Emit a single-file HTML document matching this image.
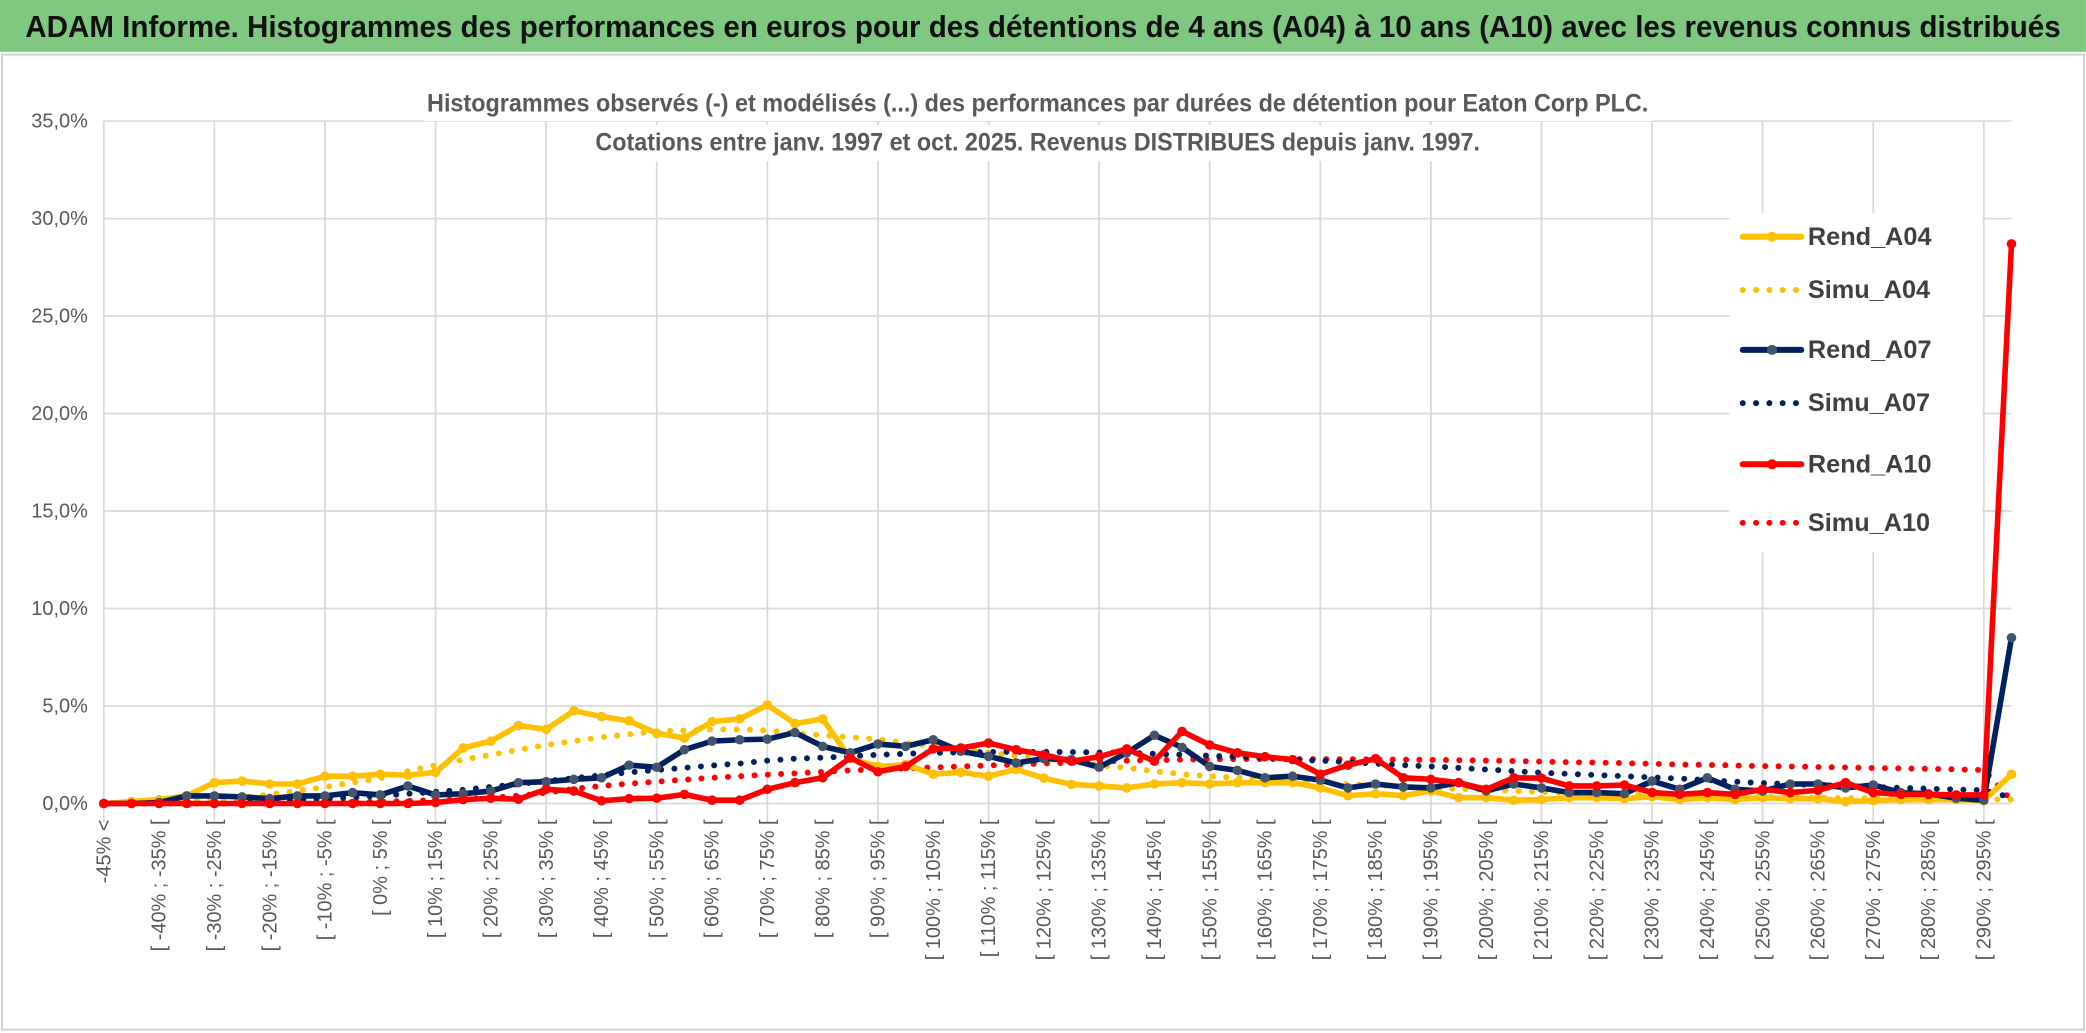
<!DOCTYPE html>
<html><head><meta charset="utf-8"><style>
html,body{margin:0;padding:0;background:#fff;}
svg{display:block;}
text{font-family:"Liberation Sans Narrow","Liberation Sans",sans-serif;}
</style></head><body>
<svg id="chart" width="2086" height="1033" viewBox="0 0 1568 776.5" xmlns="http://www.w3.org/2000/svg">
<rect x="0" y="0" width="1568" height="776.5" fill="#fff"/>
<rect x="0" y="0" width="1568" height="39" fill="#7ec97f"/>
<text x="784" y="28" text-anchor="middle" font-size="23" font-weight="bold" fill="#111" textLength="1530" lengthAdjust="spacingAndGlyphs">ADAM Informe. Histogrammes des performances en euros pour des détentions de 4 ans (A04) à 10 ans (A10) avec les revenus connus distribués</text>
<rect x="1.5" y="41" width="1565" height="733" fill="#fff" stroke="#d0d0d0" stroke-width="1.5"/>
<g id="grid"></g>
<g id="yaxis"></g>
<g id="xaxis"></g>
<g id="series"></g>
<rect x="318" y="64" width="924" height="27" fill="#fff"/>
<rect x="444" y="94" width="672" height="27" fill="#fff"/>
<text x="780" y="84" text-anchor="middle" font-size="19" font-weight="bold" fill="#595959" textLength="918" lengthAdjust="spacingAndGlyphs">Histogrammes observés (-) et modélisés (...) des performances par durées de détention pour Eaton Corp PLC.</text>
<text x="780" y="113" text-anchor="middle" font-size="19" font-weight="bold" fill="#595959" textLength="665" lengthAdjust="spacingAndGlyphs">Cotations entre janv. 1997 et oct. 2025. Revenus DISTRIBUES depuis janv. 1997.</text>
<g id="legend"></g>
</svg>
<script>
const categories = (function(){ const c=["-45% <"]; for(let a=-45;a<300;a+=5){c.push("[ "+a+"% ; "+(a+5)+"% [");} return c; })();
const yTicks = [0,5,10,15,20,25,30,35];
const yTickLabels = ["0,0%","5,0%","10,0%","15,0%","20,0%","25,0%","30,0%","35,0%"];
const rendA04 = [0,0.1,0.2,0.4,1.07,1.15,1.0,1.0,1.4,1.4,1.5,1.45,
1.6,2.85,3.2,4.0,3.8,4.76,4.46,4.24,3.6,3.36,4.2,4.34,5.05,4.1,4.34,
2.3,1.9,2.0,1.5,1.6,1.4,1.75,1.3,
0.98,0.9,0.8,1.0,1.07,1.0,1.07,1.07,1.07,0.8,0.4,0.5,0.4,0.65,0.3,0.3,0.17,0.2,
0.3,0.3,0.25,0.35,0.2,0.3,0.2,0.3,0.25,0.25,0.1,0.15,0.2,0.2,0.2,0.15,1.5];
const rendA07 = [0,0,0.05,0.39,0.39,0.34,0.25,0.39,0.39,0.56,0.44,0.9,0.44,0.5,0.64,1.07,1.12,
1.24,1.32,1.97,1.86,2.76,3.2,3.27,3.3,3.64,2.93,2.6,3.05,2.93,3.27,2.68,2.42,2.08,2.3,
2.25,1.86,2.6,3.5,2.88,1.9,1.7,1.32,1.4,1.2,0.8,1.0,0.85,0.8,1.07,0.65,1.0,
0.8,0.56,0.56,0.5,1.15,0.73,1.32,0.73,0.64,1.0,1.0,0.8,0.95,0.56,0.5,0.27,0.17,8.5];
const rendA10 = [0,0,0,0,0,0,0,0,0,0,0,0,0.05,0.2,0.27,0.22,0.73,
0.64,0.14,0.25,0.27,0.47,0.17,0.17,0.73,1.07,1.32,2.34,1.63,1.9,2.8,2.85,3.1,2.76,2.5,
2.17,2.4,2.8,2.17,3.7,3.0,2.6,2.4,2.25,1.5,1.97,2.3,1.32,1.24,1.07,0.73,1.32,
1.3,0.9,0.9,0.95,0.56,0.47,0.56,0.47,0.73,0.56,0.68,1.07,0.56,0.47,0.47,0.44,0.44,28.7];
const simuA04 = [0,0.02,0.05,0.1,0.2,0.3,0.47,0.64,0.85,1.07,
1.3,1.66,1.97,2.25,2.5,2.76,3.0,3.2,3.4,3.55,
3.7,3.75,3.8,3.8,3.75,3.6,3.5,3.4,3.3,3.1,
2.95,2.8,2.6,2.45,2.3,2.15,1.95,1.83,1.66,1.5,
1.4,1.32,1.25,1.15,1.05,1.0,0.93,0.87,0.8,0.75,
0.7,0.65,0.6,0.56,0.52,0.48,0.45,0.42,0.39,0.36,
0.34,0.32,0.3,0.28,0.26,0.24,0.23,0.22,0.21,0.2];
const simuA07 = [0,0,0,0.02,0.05,0.08,0.12,0.18,0.25,0.32,
0.4,0.5,0.6,0.7,0.85,1.0,1.15,1.3,1.45,1.6,
1.72,1.83,1.95,2.05,2.2,2.3,2.35,2.42,2.5,2.55,
2.6,2.62,2.64,2.65,2.65,2.64,2.62,2.6,2.55,2.5,
2.45,2.4,2.35,2.25,2.2,2.12,2.05,1.97,1.9,1.83,
1.75,1.66,1.58,1.52,1.46,1.4,1.34,1.28,1.2,1.12,
1.05,1.0,0.95,0.9,0.85,0.8,0.76,0.72,0.68,0.3];
const simuA10 = [0,0,0,0,0,0.01,0.02,0.03,0.05,0.07,
0.1,0.13,0.17,0.22,0.3,0.4,0.55,0.75,0.9,1.02,
1.12,1.22,1.32,1.4,1.48,1.55,1.62,1.7,1.75,1.8,
1.85,1.9,1.95,2.0,2.05,2.1,2.15,2.2,2.22,2.25,
2.27,2.28,2.28,2.28,2.28,2.27,2.26,2.25,2.24,2.22,
2.2,2.18,2.15,2.12,2.1,2.07,2.04,2.0,1.98,1.95,
1.92,1.9,1.87,1.85,1.82,1.8,1.78,1.75,1.72,0.15];
const seriesNames = ["Rend_A04","Simu_A04","Rend_A07","Simu_A07","Rend_A10","Simu_A10"];

const NS="http://www.w3.org/2000/svg";
const X0=78, X1=1512, Y0=604, Y35=91;
function xs(i){ return X0 + (X1-X0)*i/(categories.length-1); }
function ys(v){ return Y0 - (Y0-Y35)*v/35; }
function mk(tag, attrs, parent){ const e=document.createElementNS(NS,tag); for(const k in attrs) e.setAttribute(k, attrs[k]); parent.appendChild(e); return e; }

const grid=document.getElementById('grid');
yTicks.forEach(function(t){
  const l=mk('line',{x1:X0,x2:X1,y1:ys(t),y2:ys(t),stroke:'#d9d9d9','stroke-width':1.3},grid);
  
  
});
for(let i=0;i<categories.length;i+=4){
  const l=mk('line',{x1:xs(i),x2:xs(i),y1:Y35,y2:Y0+14,stroke:'#d9d9d9','stroke-width':1.3},grid);
  
  
}
const yaxis=document.getElementById('yaxis');
yTicks.forEach(function(t,k){
  const tx=mk('text',{x:66,y:ys(t)+5,'text-anchor':'end','font-size':15,fill:'#595959'},yaxis);
  tx.textContent=yTickLabels[k];
  
  
});
const xaxis=document.getElementById('xaxis');
for(let i=0;i<categories.length;i+=2){
  const x=xs(i)+5, y=616;
  const tx=mk('text',{x:x,y:y,'text-anchor':'end','font-size':15,fill:'#595959',transform:'rotate(-90 '+x+' '+y+')'},xaxis);
  tx.textContent=categories[i];
  
  
}

const sg=document.getElementById('series');
function drawLine(vals, color, dotted, markerColor, name){
  const g=mk('g',{},sg);
  
  
  const pts=vals.map(function(v,i){return xs(i).toFixed(2)+','+ys(v).toFixed(2);}).join(' ');
  const attrs={points:pts,fill:'none',stroke:color,'stroke-width':dotted?4.5:4.2,'stroke-linejoin':'round','stroke-linecap':'round'};
  if(dotted){ attrs['stroke-dasharray']='0 10'; }
  const pl=mk('polyline',attrs,g);
  
  
  if(!dotted){
    vals.forEach(function(v,i){
      const c=mk('circle',{cx:xs(i),cy:ys(v),r:3.6,fill:markerColor},g);
      
      
    });
  }
}
drawLine(simuA10,'#ff0000',true,null,'simu-a10');
drawLine(simuA07,'#002060',true,null,'simu-a07');
drawLine(simuA04,'#ffc000',true,null,'simu-a04');
drawLine(rendA04,'#ffc000',false,'#ffc000','rend-a04');
drawLine(rendA07,'#002060',false,'#44546a','rend-a07');
drawLine(rendA10,'#ff0000',false,'#ff0000','rend-a10');

const lg=document.getElementById('legend');
mk('rect',{x:1300,y:160,width:190,height:255,fill:'#fff'},lg);
const legColors=['#ffc000','#ffc000','#002060','#002060','#ff0000','#ff0000'];
const legMarker=['#ffc000',null,'#44546a',null,'#ff0000',null];
const legY=[178,218,263,303,349,393];
seriesNames.forEach(function(n,k){
  const y=legY[k];
  const g=mk('g',{},lg);
  
  
  const a={x1:1310,x2:1354,y1:y,y2:y,stroke:legColors[k],'stroke-width':4.5,'stroke-linecap':'round'};
  if(!legMarker[k]) a['stroke-dasharray']='0 10';
  mk('line',a,g);
  if(legMarker[k]) mk('circle',{cx:1332,cy:y,r:3.8,fill:legMarker[k]},g);
  const t=mk('text',{x:1359,y:y+6,'font-size':19,'font-weight':'bold',fill:'#404040'},g);
  t.textContent=n;
});
</script>
</body></html>
